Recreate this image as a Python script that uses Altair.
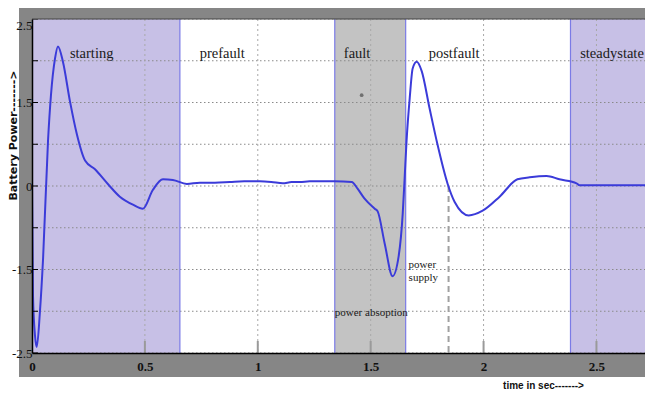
import altair as alt
import pandas as pd

# ---------------- data ----------------
time_s = [0.000, 0.0044, 0.013, 0.021, 0.035, 0.049, 0.071, 0.084, 0.102, 0.115,
          0.137, 0.168, 0.199, 0.235, 0.279, 0.336, 0.389, 0.447, 0.491, 0.535,
          0.580, 0.624, 0.686, 0.743, 0.810, 0.876, 0.940, 1.009, 1.060, 1.111,
          1.150, 1.186, 1.230, 1.274, 1.340, 1.416, 1.442, 1.473, 1.518, 1.531,
          1.562, 1.597, 1.624, 1.642, 1.650, 1.659, 1.673, 1.686, 1.704, 1.726,
          1.761, 1.796, 1.841, 1.872, 1.934, 1.996, 2.071, 2.150, 2.204, 2.279,
          2.336, 2.412, 2.425, 2.500, 2.600, 2.715]
battery_power = [0.00, -1.64, -2.23, -2.41, -1.89, -1.09, 0.68, 1.36, 1.91, 2.09,
                 1.86, 1.27, 0.77, 0.38, 0.25, 0.03, -0.16, -0.28, -0.34, -0.06,
                 0.10, 0.09, 0.03, 0.05, 0.05, 0.06, 0.07, 0.07, 0.06, 0.04,
                 0.06, 0.06, 0.07, 0.07, 0.07, 0.06, -0.04, -0.19, -0.34, -0.38,
                 -0.86, -1.35, -1.05, -0.41, 0.09, 0.68, 1.32, 1.76, 1.86, 1.72,
                 1.16, 0.62, 0.03, -0.24, -0.44, -0.37, -0.16, 0.10, 0.13, 0.15,
                 0.10, 0.04, 0.01, 0.01, 0.01, 0.01]

region_kind = ["stage", "fault", "stage"]
region_start = [0.0, 1.341, 2.385]
region_end = [0.655, 1.655, 2.715]

phase_labels = ["starting", "prefault", "fault", "postfault", "steadystate"]
phase_label_t = [0.168, 0.743, 1.381, 1.757, 2.428]
phase_label_v = [1.92, 1.92, 1.92, 1.92, 1.92]

note_labels = ["power absoption", "power", "supply"]
note_t = [1.341, 1.668, 1.668]
note_v = [-1.94, -1.23, -1.42]

marker_t = [1.845]
marker_top = [0.0]
marker_bottom = [-2.5]

dot_t = [1.46]
dot_v = [1.36]

x_ticks = [0, 0.5, 1, 1.5, 2, 2.5]
x_tick_labels = ["0", "0.5", "1", "1.5", "2", "2.5"]
y_grid = [-2.5, -1.875, -1.25, -0.625, 0, 0.625, 1.25, 1.875, 2.5]
y_label_values = [2.5, 1.25, 0, -1.25, -2.5]
y_tick_labels = ["2.5", "1.5", "0", "-1.5", "-2.5"]

# ---------------- styling ----------------
W, H = 613, 334
FRAME = "#868686"
LAVENDER = "#c7c0e6"
FAULT_GRAY = "#c3c3c3"
CURVE = "#3b3bd9"
EDGE = "#7b7be6"


def label_expr(values, labels):
    expr = "''"
    for val, lab in reversed(list(zip(values, labels))):
        expr = f"datum.value == {val} ? '{lab}' : ({expr})"
    return expr


x_scale = alt.Scale(domain=[0, 2.715], nice=False, zero=False)
y_scale = alt.Scale(domain=[-2.5, 2.5], nice=False, zero=False)

x_axis = alt.Axis(
    values=x_ticks, labelExpr=label_expr(x_ticks, x_tick_labels), grid=False, ticks=False,
    domainColor="#000000", domainWidth=1.5, labelFont="Liberation Serif", labelFontSize=13,
    labelFontWeight="bold", labelColor="#111111", labelPadding=7, labelFlush=False,
    labelOverlap=False, title="time in sec------->", titleFont="Liberation Sans",
    titleFontSize=10, titleFontWeight="bold", titleColor="#111111", titleX=511, titleY=32,
    titleAlign="center", titleBaseline="middle", zindex=1)

y_axis = alt.Axis(
    values=y_label_values, labelExpr=label_expr(y_label_values, y_tick_labels), grid=False,
    ticks=False, domainColor="#000000", domainWidth=1.5, labelFont="Liberation Serif",
    labelFontSize=13, labelColor="#111111", labelPadding=0, labelFlush=False,
    labelOverlap=False,
    labelBaseline={"condition": {"test": "datum.value == 2.5", "value": "top"}, "value": "middle"},
    title="Battery Power------->", titleFont="DejaVu Sans", titleFontSize=11,
    titleFontWeight="bold", titleColor="#111111", titleX=-19, titleY=116, titleAngle=270,
    titleAlign="center", titleBaseline="middle", zindex=1)

curve_df = pd.DataFrame({"t": time_s, "v": battery_power})
regions_df = pd.DataFrame({"kind": region_kind, "t0": region_start, "t1": region_end})
edges_df = pd.DataFrame({"t": [region_end[0], region_start[1], region_end[1], region_start[2]]})
phase_df = pd.DataFrame({"label": phase_labels, "t": phase_label_t, "v": phase_label_v})
note_df = pd.DataFrame({"label": note_labels, "t": note_t, "v": note_v})
marker_df = pd.DataFrame({"t": marker_t, "v0": marker_top, "v1": marker_bottom})
dot_df = pd.DataFrame({"t": dot_t, "v": dot_v})
ygrid_df = pd.DataFrame({"v": y_grid})
xgrid_df = pd.DataFrame({"t": x_ticks[1:]})
one = pd.DataFrame({"k": [0]})


def X(field):
    return alt.X(field, scale=x_scale, axis=x_axis)


def Y(field):
    return alt.Y(field, scale=y_scale, axis=y_axis)


shade = alt.Chart(regions_df).mark_rect().encode(
    x=X("t0:Q"), x2="t1:Q", y=alt.value(0), y2=alt.value(H),
    color=alt.Color("kind:N", scale=alt.Scale(domain=["stage", "fault"], range=[LAVENDER, FAULT_GRAY]), legend=None))

hgrid = alt.Chart(ygrid_df).mark_rule(color="#8a8a8a", strokeDash=[1.5, 2.5], strokeWidth=1).encode(
    y=Y("v:Q"), x=alt.value(0), x2=alt.value(W))

vgrid = alt.Chart(xgrid_df).mark_rule(color="#a8a8a8", strokeDash=[2, 3], strokeWidth=1).encode(
    x=X("t:Q"), y=alt.value(0), y2=alt.value(H))

edges = alt.Chart(edges_df).mark_rule(color=EDGE, strokeWidth=1.2).encode(
    x=X("t:Q"), y=alt.value(0), y2=alt.value(H + 4))

marker = alt.Chart(marker_df).mark_rule(color="#a0a0a0", strokeDash=[6, 4], strokeWidth=2).encode(
    x=X("t:Q"), y=Y("v0:Q"), y2="v1:Q")

line = alt.Chart(curve_df).mark_line(color=CURVE, strokeWidth=2, interpolate="monotone").encode(
    x=X("t:Q"), y=Y("v:Q"))

dot = alt.Chart(dot_df).mark_circle(color="#707070", size=14, opacity=1).encode(x=X("t:Q"), y=Y("v:Q"))

phase_text = alt.Chart(phase_df).mark_text(
    font="Liberation Serif", fontSize=14.5, color="#1a1a1a", align="left", baseline="alphabetic").encode(
    x=X("t:Q"), y=Y("v:Q"), text="label:N")

note_text = alt.Chart(note_df).mark_text(
    font="Liberation Serif", fontSize=11, color="#1a1a1a", align="left", baseline="alphabetic").encode(
    x=X("t:Q"), y=Y("v:Q"), text="label:N")

left_ticks = alt.Chart(ygrid_df).mark_rule(color="#000000", strokeWidth=1).encode(
    y=Y("v:Q"), x=alt.value(0), x2=alt.value(6))

bottom_ticks = alt.Chart(xgrid_df).mark_rule(color="#9a9a9a", strokeWidth=2).encode(
    x=X("t:Q"), y=alt.value(H - 12), y2=alt.value(H))

frame_top = alt.Chart(one).mark_rect(color=FRAME).encode(
    x=alt.value(-13), x2=alt.value(W + 20), y=alt.value(-13), y2=alt.value(0))
frame_left = alt.Chart(one).mark_rect(color=FRAME).encode(
    x=alt.value(-13), x2=alt.value(0), y=alt.value(-13), y2=alt.value(H + 24))
frame_bottom = alt.Chart(one).mark_rect(color=FRAME).encode(
    x=alt.value(-13), x2=alt.value(W + 20), y=alt.value(H), y2=alt.value(H + 24))
top_border = alt.Chart(one).mark_rule(color="#444444", strokeWidth=1).encode(
    x=alt.value(0), x2=alt.value(W + 20), y=alt.value(0))

chart = alt.layer(
    shade, hgrid, vgrid, edges, marker, line, dot, phase_text, note_text,
    left_ticks, bottom_ticks, frame_top, frame_left, frame_bottom, top_border
).properties(
    width=W, height=H,
    padding={"left": 24, "top": 11, "right": 0, "bottom": 37},
    autosize=alt.AutoSizeParams(type="none"),
    background="white",
).configure_view(stroke=None, fill="white")

chart.save("out.html", embed_options={"renderer": "svg", "actions": False})
